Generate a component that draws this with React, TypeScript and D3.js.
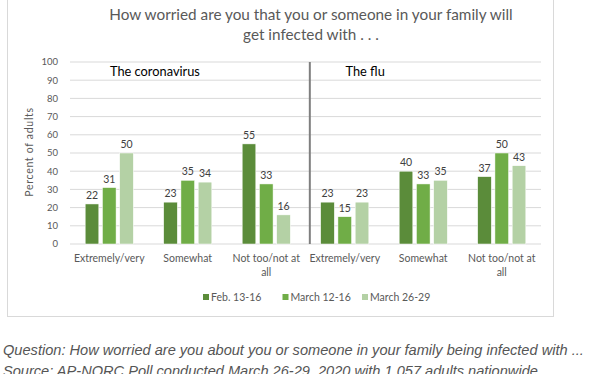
import * as d3 from "d3"

// categories, two panels of three answers each
const answers = ["Extremely/very", "Somewhat", "Not too/not at all"]
const panels = ["The coronavirus", "The flu"]
const groups = panels.flatMap((p) => answers.map((a) => `${p}|${a}`))

// survey waves
const series = ["Feb. 13-16", "March 12-16", "March 26-29"]
const febValues = [22, 23, 55, 23, 40, 37]
const march12Values = [31, 35, 33, 15, 33, 50]
const march26Values = [50, 34, 16, 23, 35, 43]
const seriesValues = [febValues, march12Values, march26Values]
const colors = ["#5b8c3a", "#70ad47", "#b4d1a5"]

const yTicks = [0, 10, 20, 30, 40, 50, 60, 70, 80, 90, 100]

const titleLines = ["How worried are you that you or someone in your family will", "get infected with . . ."]
const captionLines = [
  "Question: How worried are you about you or someone in your family being infected with ...",
  "Source: AP-NORC Poll conducted March 26-29, 2020 with 1,057 adults nationwide.",
]

const W = 595
const H = 374
const font = "Lato, 'Open Sans', sans-serif"

function wrapLabel(label: string) {
  if (label === "Not too/not at all") return ["Not too/not at", "all"]
  return [label]
}

export default function App() {
  const x0 = d3.scaleBand<string>().domain(groups).range([70, 541])
  const x1 = d3.scaleBand<string>().domain(series).range([0, x0.bandwidth()]).paddingInner(0.21).paddingOuter(0.88)
  const y = d3.scaleLinear().domain([0, 100]).range([244, 62])

  const dividerX = (x0(groups[3]) ?? 0) + x0.step() * 0.055

  // legend item positions along the bottom
  const legendX = d3.scalePoint<string>().domain(series).range([203, 362])

  return (
    <svg width={W} height={H} style={{ position: "absolute", left: 0, top: 0, background: "#fff" }}>
      {/* chart frame */}
      <rect x={7.5} y={-2} width={546} height={318.5} fill="#fff" stroke="#d9d9d9" />

      {/* title */}
      {titleLines.map((t, i) => (
        <text key={t} x={311} y={20 + i * 20} textAnchor="middle" fontFamily={font} fontSize={15.3} fill="#595959">
          {t}
        </text>
      ))}

      {/* gridlines */}
      {yTicks.map((t) => (
        <g key={t}>
          <line x1={x0.range()[0]} x2={x0.range()[1]} y1={y(t)} y2={y(t)} stroke="#d9d9d9" strokeWidth={1} />
          <text x={58} y={y(t)} dy="0.35em" textAnchor="end" fontFamily={font} fontSize={9.5} fill="#595959">
            {t}
          </text>
        </g>
      ))}

      {/* y axis title */}
      <text
        transform={`translate(33,${(y(0) + y(100)) / 2 - 1}) rotate(-90)`}
        textAnchor="middle"
        fontFamily={font}
        fontSize={10.5}
        letterSpacing={0.7}
        fill="#595959"
      >
        Percent of adults
      </text>

      {/* panel divider */}
      <line x1={dividerX} x2={dividerX} y1={y(100)} y2={y(0)} stroke="#7f7f7f" strokeWidth={2} />

      {/* panel titles */}
      {panels.map((p, i) => (
        <text key={p} x={(x0(groups[i * 3]) ?? 0) + 40} y={y(95)} dy="0.35em" fontFamily={font} fontSize={12.8} fill="#000">
          {p}
        </text>
      ))}

      {/* bars */}
      {groups.map((g, gi) => (
        <g key={g} transform={`translate(${x0(g)},0)`}>
          {series.map((s, si) => {
            const v = seriesValues[si][gi]
            const bx = x1(s) ?? 0
            return (
              <g key={s}>
                <rect x={bx} y={y(v)} width={x1.bandwidth()} height={y(0) - y(v)} fill={colors[si]} stroke="#fff" strokeWidth={0.5} />
                <text x={bx + x1.bandwidth() / 2} y={y(v) - 5} textAnchor="middle" fontFamily={font} fontSize={10.5} fill="#404040">
                  {v}
                </text>
              </g>
            )
          })}
          {wrapLabel(g.split("|")[1]).map((line, li) => (
            <text
              key={line}
              x={x0.bandwidth() / 2}
              y={258 + li * 14}
              dy="0.35em"
              textAnchor="middle"
              fontFamily={font}
              fontSize={10.5}
              fill="#595959"
            >
              {line}
            </text>
          ))}
        </g>
      ))}

      {/* legend */}
      {series.map((s, i) => (
        <g key={s} transform={`translate(${legendX(s)},297)`}>
          <rect x={0} y={-3} width={6} height={6} fill={colors[i]} />
          <text x={8} y={0} dy="0.35em" fontFamily={font} fontSize={10.5} fill="#595959">
            {s}
          </text>
        </g>
      ))}

      {/* caption */}
      {captionLines.map((c, i) => (
        <text
          key={c}
          x={3}
          y={355 + i * 21}
          fontFamily="'Liberation Sans', Arial, sans-serif"
          fontStyle="italic"
          fontSize={14.6}
          fill="#555555"
        >
          {c}
        </text>
      ))}
    </svg>
  )
}
